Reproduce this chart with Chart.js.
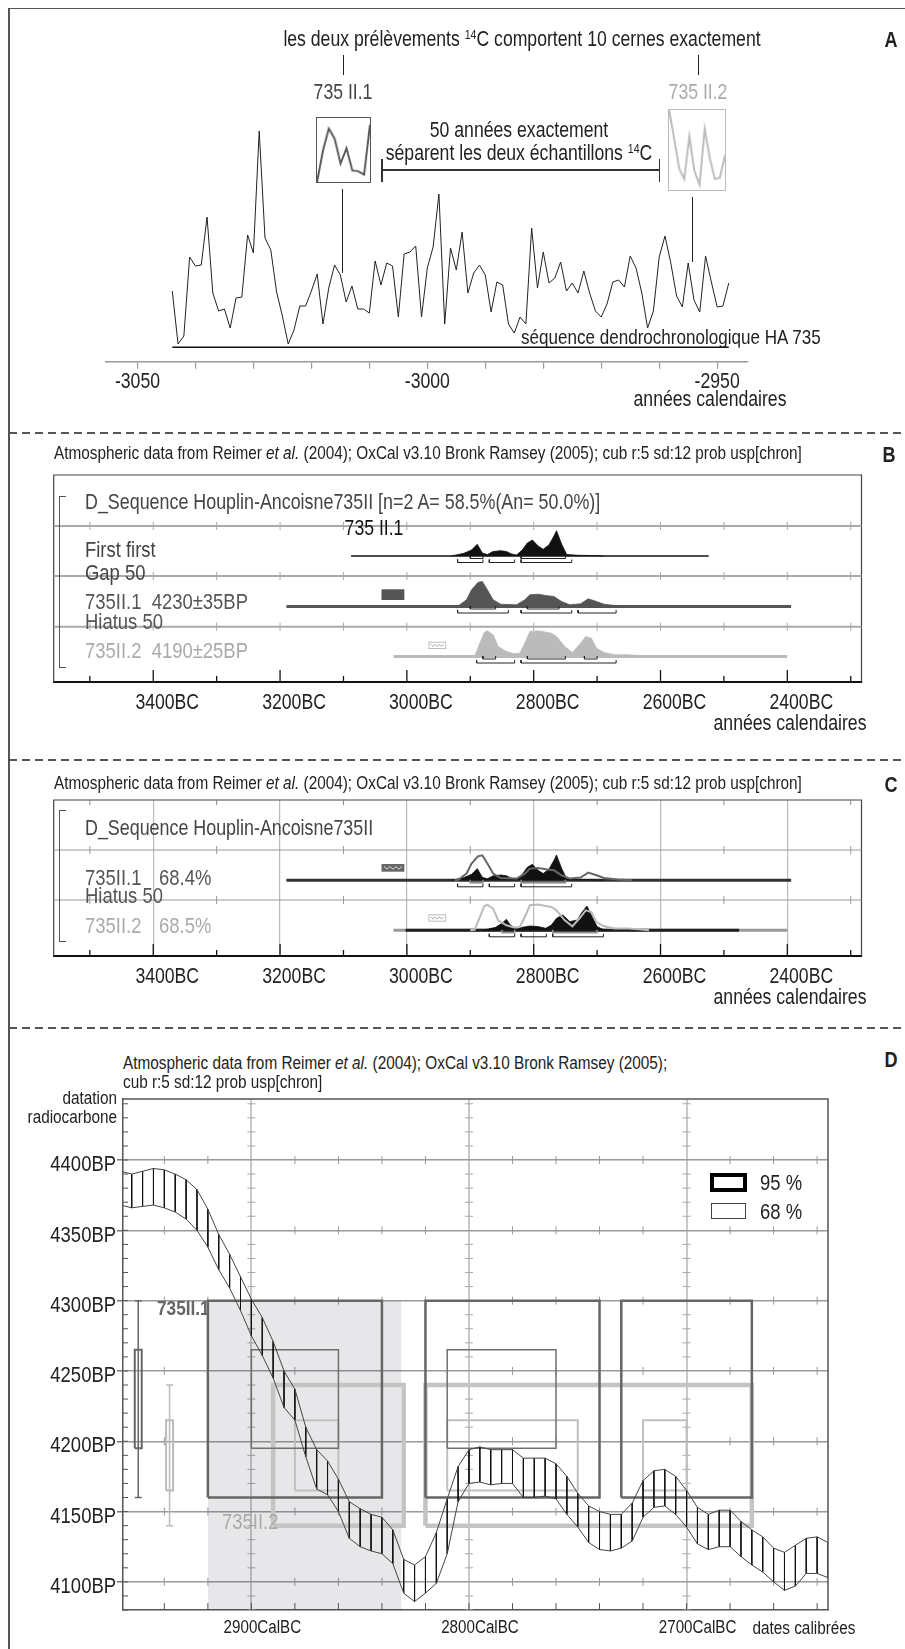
<!DOCTYPE html>
<html>
<head>
<meta charset="utf-8">
<script src="https://cdn.jsdelivr.net/npm/chart.js@4.4.1/dist/chart.umd.min.js"></script>
<style>
html, body { margin: 0; padding: 0; background: #fff; }
body { position: relative; width: 905px; height: 1649px; overflow: hidden;
  font-family: 'Liberation Sans', Arial, sans-serif; color: #222; }
.t { position: absolute; white-space: nowrap; line-height: 1; }
.c { transform: translate(-50%, -50%) scaleX(0.82); transform-origin: 50% 50%; }
.l { transform: translateY(-50%) scaleX(0.82); transform-origin: 0 50%; }
.r { transform: translate(-100%, -50%) scaleX(0.82); transform-origin: 100% 50%; }
.ln { position: absolute; background: #222; }
.dash { position: absolute; left: 9px; right: 0; height: 1.5px;
  background: repeating-linear-gradient(90deg, #555 0 8px, transparent 8px 13px); }
.brk { position: absolute; width: 6px; border: 1px solid #555; border-right: none; }
canvas { position: absolute; }
sup { font-size: 0.6em; vertical-align: 0.6em; line-height: 0; }
.big { font-size: 21.5px; }
.row { font-size: 22.5px; }
.tit { font-size: 18.7px; }
.lab { font-weight: bold; font-size: 22px; }
</style>
</head>
<body>

<!-- cadre et séparateurs -->
<div class="ln" style="left:8px;top:7.5px;width:1.5px;height:1642px;background:#555"></div>
<div class="ln" style="left:8px;top:7.5px;width:897px;height:1.5px;background:#555"></div>
<div class="dash" style="top:432px"></div>
<div class="dash" style="top:759px"></div>
<div class="dash" style="top:1027px"></div>

<!-- A -->
<canvas id="cA" width="905" height="430" style="left:0;top:0"></canvas>
<div class="t c big" style="left:522px;top:40px">les deux prélèvements <sup>14</sup>C comportent 10 cernes exactement</div>
<div class="t c lab" style="left:891px;top:40px">A</div>
<div class="ln" style="left:342.7px;top:55px;width:1px;height:20px"></div>
<div class="ln" style="left:697.7px;top:55px;width:1px;height:20px"></div>
<div class="t c big" style="left:343px;top:93px;color:#444">735 II.1</div>
<div class="t c big" style="left:698px;top:93px;color:#aaa">735 II.2</div>
<canvas id="cS1" width="55" height="66" style="left:315.7px;top:116.7px;border:1.5px solid #555"></canvas>
<canvas id="cS2" width="58" height="82" style="left:667.7px;top:109.3px;border:1.5px solid #bbb"></canvas>
<div class="t c big" style="left:519px;top:131px">50 années exactement</div>
<div class="t c big" style="left:519px;top:154px">séparent les deux échantillons <sup>14</sup>C</div>
<div class="ln" style="left:382px;top:169.4px;width:278px;height:1.3px;background:#333"></div>
<div class="ln" style="left:381.4px;top:159px;width:1.3px;height:23px;background:#333"></div>
<div class="ln" style="left:659px;top:159px;width:1.3px;height:23px;background:#333"></div>
<div class="ln" style="left:341.7px;top:189px;width:1px;height:84px"></div>
<div class="ln" style="left:692px;top:197px;width:1px;height:65px"></div>
<div class="t l" style="left:521px;top:337px;font-size:20.8px">séquence dendrochronologique HA 735</div>
<div class="t c big" style="left:710px;top:400px">années calendaires</div>

<!-- B -->
<canvas id="cB" width="905" height="290" style="left:0;top:460px"></canvas>
<div class="t l tit" style="left:54px;top:453px">Atmospheric data from Reimer <i>et al.</i> (2004); OxCal v3.10 Bronk Ramsey (2005); cub r:5 sd:12 prob usp[chron]</div>
<div class="t c lab" style="left:889px;top:455px">B</div>
<div class="brk" style="left:59px;top:496px;height:170px"></div>
<div class="t l row" style="left:85.4px;top:502px;color:#444;font-size:21.8px">D_Sequence Houplin-Ancoisne735II [n=2 A= 58.5%(An= 50.0%)]</div>
<div class="t c big" style="left:374px;top:529px;color:#111">735 II.1</div>
<div class="t l row" style="left:85.4px;top:550px;color:#444">First first</div>
<div class="t l row" style="left:85.4px;top:573px;color:#444">Gap 50</div>
<div class="t l row" style="left:85.4px;top:602px;color:#555">735II.1&nbsp;&nbsp;4230±35BP</div>
<div class="t l row" style="left:85.4px;top:622px;color:#555">Hiatus 50</div>
<div class="t l row" style="left:85.4px;top:651px;color:#aaa">735II.2&nbsp;&nbsp;4190±25BP</div>
<div class="t c big" style="left:790px;top:724px">années calendaires</div>

<!-- C -->
<canvas id="cC" width="905" height="236" style="left:0;top:790px"></canvas>
<div class="t l tit" style="left:54px;top:783px">Atmospheric data from Reimer <i>et al.</i> (2004); OxCal v3.10 Bronk Ramsey (2005); cub r:5 sd:12 prob usp[chron]</div>
<div class="t c lab" style="left:891px;top:785px">C</div>
<div class="brk" style="left:59px;top:810px;height:130px"></div>
<div class="t l row" style="left:85.4px;top:828px;color:#444;font-size:21.8px">D_Sequence Houplin-Ancoisne735II</div>
<div class="t l row" style="left:85.4px;top:878px;color:#555">735II.1</div>
<div class="t l row" style="left:158.7px;top:878px;color:#555">68.4%</div>
<div class="t l row" style="left:85.4px;top:896px;color:#555">Hiatus 50</div>
<div class="t l row" style="left:85.4px;top:926px;color:#aaa">735II.2</div>
<div class="t l row" style="left:158.7px;top:926px;color:#aaa">68.5%</div>
<div class="t c big" style="left:790px;top:998px">années calendaires</div>

<!-- D -->
<canvas id="cD" width="905" height="559" style="left:0;top:1090px"></canvas>
<div class="t l tit" style="left:123px;top:1063px">Atmospheric data from Reimer <i>et al.</i> (2004); OxCal v3.10 Bronk Ramsey (2005);</div>
<div class="t l tit" style="left:123px;top:1082px">cub r:5 sd:12 prob usp[chron]</div>
<div class="t c lab" style="left:891px;top:1060px">D</div>
<div class="t r tit" style="left:117px;top:1098px">datation</div>
<div class="t r tit" style="left:117px;top:1117px">radiocarbone</div>
<div class="t l" style="left:157px;top:1307px;font-size:21px;font-weight:bold;color:#666">735II.1</div>
<div class="t l row" style="left:222px;top:1522px;color:#aaa">735II.2</div>
<div style="position:absolute;left:709.8px;top:1173.3px;width:37.5px;height:19px;border:4px solid #000;box-sizing:border-box"></div>
<div style="position:absolute;left:711px;top:1202.7px;width:35px;height:16.6px;border:1px solid #444;box-sizing:border-box"></div>
<div class="t l row" style="left:760px;top:1183px">95 %</div>
<div class="t l row" style="left:760px;top:1212px">68 %</div>
<div class="t c tit" style="left:804px;top:1628px">dates calibrées</div>

<script>
const FONT = "'Liberation Sans', Arial, sans-serif";
const NARROW = 0.82;
Chart.defaults.font.family = FONT;

// ---------- A : séquence dendrochronologique HA 735 (largeurs de cernes)
const firstRingYear = -3044;
const ringWidths = [
  69, 16, 24, 103, 94, 95, 143, 67, 49, 51,
  32, 62, 63, 125, 107, 229, 122, 110, 68, 44,
  16, 30, 54, 54, 69, 86, 36, 72, 95, 85,
  58, 74, 51, 51, 47, 99, 75, 97, 94, 43,
  106, 108, 114, 43, 92, 113, 166, 36, 112, 90,
  128, 67, 87, 95, 85, 48, 78, 75, 36, 27,
  43, 36, 132, 72, 108, 77, 82, 98, 69, 77,
  67, 89, 67, 49, 43, 56, 78, 80, 73, 104,
  92, 67, 32, 49, 103, 124, 97, 64, 53, 97,
  60, 48, 104, 78, 53, 54, 77
];
const sample1Rings = [0, 32.7, 56, 45.3, 19.3, 35.3, 12, 11.3, 7.7, 60];
const sample2Rings = [84.3, 54.3, 23.3, 12.7, 56.7, 21, 7, 64.3, 34.3, 12.7, 14.3, 37];
const yearLabelsA = [-3050, -3000, -2950];

// ---------- B / C : distributions OxCal (années BC, probabilité relative)
const firstYears = [2930, 2910, 2898, 2889, 2881, 2873, 2864, 2852, 2843, 2835, 2827, 2818, 2810, 2802, 2793, 2785, 2776, 2768, 2764, 2756, 2748, 2730, 2709, 2690];
const firstProb  = [0, 2.7, 6, 11.7, 3, 1.5, 4.5, 5.3, 4.5, 2, 1, 6, 13, 16, 10, 6.7, 11, 20, 25.3, 12, 1.5, 0.7, 0.5, 0];
const ii1Years = [2925, 2919, 2906, 2898, 2888, 2881, 2873, 2864, 2852, 2827, 2814, 2806, 2793, 2781, 2768, 2756, 2743, 2726, 2714, 2701, 2689, 2668, 2645];
const ii1Prob  = [0, 0.5, 6.7, 16.7, 24, 25, 16.7, 6.7, 2.3, 1.7, 6.7, 11.7, 12.3, 11, 10, 5, 1.7, 2.7, 7.7, 5, 2.3, 0.7, 0];
const ii2Years = [2900, 2893, 2887, 2878, 2873, 2864, 2856, 2843, 2831, 2822, 2814, 2806, 2793, 2781, 2772, 2764, 2751, 2739, 2726, 2718, 2709, 2701, 2689, 2672, 2651, 2634, 2618];
const ii2Prob  = [0, 0.5, 10, 24, 25.7, 21.7, 10, 5, 2.7, 3.3, 13.3, 25, 25.7, 24.3, 23.3, 20, 10, 4, 13.3, 20, 18.3, 8.3, 4, 1.7, 1.7, 1, 0];
const hiatusYears = [2880, 2860, 2850, 2843, 2837, 2827, 2818, 2806, 2793, 2781, 2772, 2764, 2754, 2743, 2731, 2725, 2716, 2708, 2700, 2691, 2680];
const hiatusProb  = [0, 3, 7, 11, 5.3, 1.3, 3, 4.3, 3.7, 2, 5.3, 12, 15.3, 8.7, 10.3, 17, 24.3, 13.7, 3.7, 1, 0];

// intervalles calibrés (BC)
const first68 = [[2900, 2880], [2820, 2750]];
const first95 = [[2920, 2880], [2870, 2830], [2820, 2740]];
const ii1_68 = [[2900, 2860], [2810, 2760]];
const ii1_95 = [[2920, 2840], [2820, 2740], [2730, 2670]];
const ii2_68 = [[2880, 2860], [2810, 2750], [2720, 2700]];
const ii2_95 = [[2890, 2830], [2820, 2670]];
const hiatus68 = [[2850, 2830], [2770, 2700]];
const hiatus95 = [[2870, 2830], [2820, 2780], [2770, 2690]];

// étendue des courbes tracées (BC)
const firstSpan = [3088, 2524];
const ii1Span = [3190, 2394];
const ii2Span = [3021, 2400];
const hiatusSpan = [3002, 2476];
const ii1Icon = [3040, 3004];
const ii2Icon = [2966, 2938];

// ---------- D : courbe de calibration (CalBC, BP)
const dates14C = { ii1: [4230, 35], ii2: [4190, 25] };
const calYears = [2960, 2955, 2950, 2945, 2940, 2935, 2930, 2925, 2920, 2915, 2910, 2905, 2900, 2895, 2890, 2885, 2880,
  2875, 2870, 2865, 2860, 2855, 2850, 2845, 2840, 2835, 2830, 2825, 2820, 2815, 2810, 2805, 2800, 2795, 2790, 2785,
  2780, 2775, 2770, 2765, 2760, 2755, 2750, 2745, 2740, 2735, 2730, 2725, 2720, 2715, 2710, 2705, 2700, 2695, 2690,
  2685, 2680, 2675, 2670, 2665, 2660, 2655, 2650, 2645, 2640, 2635];
const calUpper = [4392, 4390, 4392, 4394, 4393, 4390, 4386, 4379, 4365, 4347, 4333, 4317, 4301, 4288, 4271, 4250, 4237,
  4210, 4194, 4186, 4173, 4157, 4152, 4148, 4146, 4137, 4116, 4112, 4118, 4135, 4159, 4182, 4194, 4196, 4194, 4194,
  4194, 4188, 4188, 4188, 4184, 4175, 4163, 4154, 4150, 4148, 4148, 4156, 4172, 4179, 4180, 4175, 4165, 4153, 4148,
  4151, 4151, 4143, 4137, 4132, 4124, 4121, 4126, 4131, 4132, 4128];
const calLower = [4368, 4366, 4367, 4368, 4366, 4363, 4358, 4350, 4338, 4322, 4309, 4293, 4275, 4261, 4245, 4224, 4215,
  4189, 4166, 4162, 4150, 4131, 4125, 4122, 4120, 4113, 4092, 4086, 4092, 4099, 4120, 4157, 4170, 4171, 4169, 4170,
  4170, 4160, 4160, 4161, 4159, 4148, 4139, 4128, 4123, 4122, 4124, 4129, 4146, 4153, 4154, 4148, 4139, 4127, 4123,
  4125, 4125, 4118, 4112, 4107, 4100, 4094, 4097, 4106, 4106, 4103];
const shadeSpan = [2920, 2831];

// ---------- helpers
const common = { responsive: false, animation: false, events: [],
  plugins: { legend: { display: false }, tooltip: { enabled: false } } };

function ds(data, color, width, extra) {
  return Object.assign({ data, borderColor: color, borderWidth: width, pointRadius: 0, fill: false,
    tension: 0, borderJoinStyle: 'miter', spanGaps: false }, extra || {});
}
function stack(list) { return list.map((d, i) => Object.assign(d, { order: list.length - i })); }
function dist(xs, ps, base) { return xs.map((x, i) => ({ x, y: base + ps[i] })); }
function span(s, base) { return [{ x: s[0], y: base }, { x: s[1], y: base }]; }
function brackets(ranges, level) {
  const out = [];
  ranges.forEach(([a, b]) => out.push({ x: a, y: level + 3 }, { x: a, y: level }, { x: b, y: level }, { x: b, y: level + 3 }, { x: b, y: null }));
  return out;
}
function rects(ranges, lo, hi) {
  const out = [];
  ranges.forEach(([a, b]) => out.push({ x: a, y: lo }, { x: a, y: hi }, { x: b, y: hi }, { x: b, y: lo }, { x: a, y: lo }, { x: a, y: null }));
  return out;
}
function strokeLine(ctx, x1, y1, x2, y2) { ctx.beginPath(); ctx.moveTo(x1, y1); ctx.lineTo(x2, y2); ctx.stroke(); }

// tick labels of the chart's own scales, drawn in a narrowed face (the figure uses a condensed font)
function narrowTicks(specs) {
  return {
    id: 'narrowTicks',
    afterDraw(chart) {
      const { ctx, chartArea: a } = chart;
      specs.forEach(sp => {
        const sc = chart.scales[sp.axis];
        ctx.save();
        ctx.fillStyle = '#222';
        ctx.font = sp.size + 'px ' + FONT;
        ctx.textBaseline = 'middle';
        ctx.textAlign = sp.align || 'center';
        sc.ticks.forEach(t => {
          if (!t.label) return;
          const p = sc.getPixelForValue(t.value);
          const px = sp.axis === 'x' ? p + sp.dx : a.left + sp.dx;
          const py = sp.axis === 'x' ? a.bottom + sp.dy : p + sp.dy;
          ctx.save(); ctx.translate(px, py); ctx.scale(NARROW, 1); ctx.fillText(t.label, 0, 0); ctx.restore();
        });
        ctx.restore();
      });
    }
  };
}

// ---------- A
new Chart(document.getElementById('cA'), {
  type: 'line',
  data: { datasets: [
    ds(ringWidths.map((w, i) => ({ x: firstRingYear + i, y: w })), '#222', 1),
    ds(span([firstRingYear, firstRingYear + ringWidths.length - 1], 12.7), '#111', 1.5)
  ] },
  options: Object.assign({}, common, {
    layout: { padding: { left: 105.6, right: 157.7, top: 40, bottom: 0 } },
    scales: {
      x: { type: 'linear', min: -3055.5, max: -2944.8,
        border: { color: '#999', width: 1.5 },
        grid: { drawOnChartArea: false, tickLength: 7, color: '#999', lineWidth: 1.2 },
        ticks: { display: false, stepSize: 10, includeBounds: false, autoSkip: false,
          callback: v => yearLabelsA.includes(v) ? String(v) : '' },
        afterFit(s) { s.height = 68.3; } },
      y: { display: false, min: -1.7, max: 320 }
    }
  }),
  plugins: [narrowTicks([{ axis: 'x', size: 21.5, dx: 0, dy: 20 }])]
});

function inset(id, values, color, lo, hi) {
  new Chart(document.getElementById(id), {
    type: 'line',
    data: { labels: values.map((_, i) => i + 1), datasets: [ds(values, color, 2)] },
    options: Object.assign({}, common, { layout: { padding: 0 },
      scales: { x: { display: false, offset: false }, y: { display: false, min: lo, max: hi } } })
  });
}
inset('cS1', sample1Rings, '#555', 0, 67);
inset('cS2', sample2Rings, '#bbb', 1.5, 83.5);

// ---------- B & C
function oxcalDeco(cfg) {
  return {
    id: 'oxcalDeco',
    beforeDatasetsDraw(chart) {
      const { ctx, chartArea: a, scales: { x, y } } = chart;
      ctx.save();
      ctx.strokeStyle = '#444'; ctx.lineWidth = 1.2;
      ctx.beginPath(); ctx.moveTo(a.left, a.bottom); ctx.lineTo(a.left, a.top);
      ctx.lineTo(a.right, a.top); ctx.lineTo(a.right, a.bottom); ctx.stroke();
      cfg.rows.forEach(v => {
        const py = y.getPixelForValue(v);
        ctx.strokeStyle = cfg.rowColor; ctx.lineWidth = cfg.rowWidth;
        strokeLine(ctx, a.left, py, a.right, py);
        ctx.lineWidth = 1;
        x.ticks.forEach(t => {
          if (cfg.oddOnly && t.value % 200 === 0) return;
          const px = x.getPixelForValue(t.value);
          strokeLine(ctx, px, py - 4, px, py + 4);
        });
      });
      if (cfg.topTicks) {
        ctx.strokeStyle = '#888'; ctx.lineWidth = 1;
        x.ticks.forEach(t => { if (t.value % 200 !== 0) { const px = x.getPixelForValue(t.value); strokeLine(ctx, px, a.top, px, a.top + 5); } });
      }
      ctx.strokeStyle = '#111'; ctx.lineWidth = 1.3;
      x.ticks.forEach(t => {
        const px = x.getPixelForValue(t.value);
        strokeLine(ctx, px, a.bottom, px, a.bottom - (t.value % 200 === 0 ? 12 : 6));
      });
      ctx.restore();
    },
    afterDatasetsDraw(chart) {
      const { ctx, scales: { x, y } } = chart;
      ctx.save();
      cfg.icons.forEach(ic => {
        const x1 = x.getPixelForValue(ic.span[0]), x2 = x.getPixelForValue(ic.span[1]);
        const y1 = y.getPixelForValue(ic.base + ic.hi), y2 = y.getPixelForValue(ic.base + ic.lo);
        if (ic.fill) { ctx.fillStyle = ic.fill; ctx.fillRect(x1, y1, x2 - x1, y2 - y1); }
        if (ic.stroke) { ctx.strokeStyle = ic.stroke; ctx.lineWidth = 1; ctx.strokeRect(x1 + 0.5, y1 + 0.5, x2 - x1 - 1, y2 - y1 - 1); }
        if (ic.zig) {
          ctx.strokeStyle = ic.zig; ctx.lineWidth = 1; ctx.beginPath();
          for (let k = 0; k <= 6; k++) {
            const px = x1 + 2.5 + (x2 - x1 - 5) * k / 6, py = k % 2 ? y2 - 2.5 : y1 + 2.5;
            if (k) ctx.lineTo(px, py); else ctx.moveTo(px, py);
          }
          ctx.stroke();
        }
      });
      ctx.restore();
    }
  };
}

function bcScales(maxY, axisH, gridColor) {
  return {
    x: { type: 'linear', reverse: true, min: 2283, max: 3557,
      border: { display: true, color: '#111', width: 2 },
      grid: { drawOnChartArea: !!gridColor, drawTicks: false, lineWidth: 1.2,
        color: c => (gridColor && c.tick && c.tick.value % 200 === 0) ? gridColor : 'rgba(0,0,0,0)' },
      ticks: { display: false, stepSize: 100, includeBounds: false, autoSkip: false,
        callback: v => v % 200 === 0 ? v + 'BC' : '' },
      afterFit(s) { s.height = axisH; } },
    y: { display: false, min: 0, max: maxY }
  };
}

// B
const rowB = [126, 75.5, 25.5];
new Chart(document.getElementById('cB'), {
  type: 'line',
  data: { datasets: stack([
    ds(span(firstSpan, rowB[0]), '#111', 1.5),
    ds(dist(firstYears, firstProb, rowB[0]), '#111', 0.8, { fill: { value: rowB[0] }, backgroundColor: '#111' }),
    ds(brackets(first68, rowB[0] - 2.5), '#222', 1),
    ds(brackets(first95, rowB[0] - 6.5), '#222', 1),
    ds(span(ii1Span, rowB[1]), '#555', 3),
    ds(dist(ii1Years, ii1Prob, rowB[1]), '#555', 0.8, { fill: { value: rowB[1] }, backgroundColor: '#555' }),
    ds(brackets(ii1_68, rowB[1] - 2.5), '#222', 1),
    ds(brackets(ii1_95, rowB[1] - 6.5), '#222', 1),
    ds(span(ii2Span, rowB[2]), '#bbb', 3),
    ds(dist(ii2Years, ii2Prob, rowB[2]), '#bbb', 0.8, { fill: { value: rowB[2] }, backgroundColor: '#bbb' }),
    ds(brackets(ii2_68, rowB[2] - 2.5), '#222', 1),
    ds(brackets(ii2_95, rowB[2] - 6.5), '#222', 1)
  ]) },
  options: Object.assign({}, common, {
    layout: { padding: { left: 53.7, right: 43.5, top: 15, bottom: 0 } },
    scales: bcScales(207, 68, null)
  }),
  plugins: [oxcalDeco({ rows: [156, 106, 55.3], rowColor: '#aaa', rowWidth: 2, oddOnly: false, topTicks: false,
    icons: [
      { span: ii1Icon, base: rowB[1], lo: 6.5, hi: 17.2, fill: '#555' },
      { span: ii2Icon, base: rowB[2], lo: 7.5, hi: 14.8, stroke: '#bbb', zig: '#aaa' }
    ] }), narrowTicks([{ axis: 'x', size: 21.5, dx: 14, dy: 21 }])]
});

// C
const rowC = [75.7, 25.7];
new Chart(document.getElementById('cC'), {
  type: 'line',
  data: { datasets: stack([
    ds(span(ii1Span, rowC[0]), '#333', 3),
    ds(dist(firstYears, firstProb, rowC[0]), '#111', 0.8, { fill: { value: rowC[0] }, backgroundColor: '#111' }),
    ds(dist(ii1Years, ii1Prob, rowC[0]), '#666', 2),
    ds(brackets(first68, rowC[0] - 2.5), '#888', 1.5),
    ds(brackets(first95, rowC[0] - 6.5), '#222', 1),
    ds(span(ii2Span, rowC[1]), '#999', 3),
    ds(span(hiatusSpan, rowC[1]), '#222', 3),
    ds(dist(hiatusYears, hiatusProb, rowC[1]), '#111', 0.8, { fill: { value: rowC[1] }, backgroundColor: '#111' }),
    ds(dist(ii2Years, ii2Prob, rowC[1]), '#bbb', 2),
    ds(brackets(hiatus68, rowC[1] - 2.5), '#999', 1.5),
    ds(brackets(hiatus95, rowC[1] - 6.5), '#222', 1)
  ]) },
  options: Object.assign({}, common, {
    layout: { padding: { left: 53.7, right: 43.5, top: 10, bottom: 0 } },
    scales: bcScales(156, 70, '#bbb')
  }),
  plugins: [oxcalDeco({ rows: [106, 56], rowColor: '#999', rowWidth: 1.2, oddOnly: true, topTicks: true,
    icons: [
      { span: ii1Icon, base: rowC[0], lo: 8.6, hi: 16.3, fill: '#666', zig: '#ddd' },
      { span: ii2Icon, base: rowC[1], lo: 8.6, hi: 16, stroke: '#bbb', zig: '#aaa' }
    ] }), narrowTicks([{ axis: 'x', size: 21.5, dx: 14, dy: 20.7 }])]
});

// ---------- D
const dDeco = {
  id: 'dDeco',
  beforeDatasetsDraw(chart) {
    const { ctx, chartArea: a, scales: { x, y } } = chart;
    ctx.save(); ctx.lineWidth = 1;
    y.ticks.forEach(ty => {
      if (ty.value % 50 !== 0) return;
      const py = y.getPixelForValue(ty.value);
      ctx.strokeStyle = '#999';
      x.ticks.forEach(tx => { if (tx.value % 100 !== 0) { const px = x.getPixelForValue(tx.value); strokeLine(ctx, px, py - 4, px, py + 4); } });
    });
    x.ticks.forEach(tx => {
      if (tx.value % 100 !== 0) return;
      const px = x.getPixelForValue(tx.value);
      ctx.strokeStyle = '#aaa';
      y.ticks.forEach(ty => { if (ty.value % 50 !== 0) { const py = y.getPixelForValue(ty.value); strokeLine(ctx, px - 4, py, px + 4, py); } });
    });
    ctx.strokeStyle = '#555';
    y.ticks.forEach(ty => { const py = y.getPixelForValue(ty.value); strokeLine(ctx, a.left, py, a.left + 5, py); });
    x.ticks.forEach(tx => { const px = x.getPixelForValue(tx.value); strokeLine(ctx, px, a.bottom, px, a.bottom - 7); });
    ctx.restore();
  },
  afterDatasetsDraw(chart) {
    const { ctx, chartArea: a } = chart;
    ctx.save(); ctx.strokeStyle = '#555'; ctx.lineWidth = 1.5;
    ctx.beginPath(); ctx.moveTo(a.left, a.top); ctx.lineTo(a.right, a.top); ctx.lineTo(a.right, a.bottom); ctx.stroke();
    ctx.restore();
  }
};

function errBar(xc, date, color) {
  const [m, s] = date, hw = 1.6;
  return [
    ds([{ x: xc, y: m - 2 * s }, { x: xc, y: m + 2 * s }, { x: xc, y: null },
        { x: xc + hw, y: m + 2 * s }, { x: xc - hw, y: m + 2 * s }, { x: xc, y: null },
        { x: xc + hw, y: m - 2 * s }, { x: xc - hw, y: m - 2 * s }], color, 1.5),
    ds(rects([[xc + hw, xc - hw]], m - s, m + s), color, 2)
  ];
}
const d1 = dates14C.ii1, d2 = dates14C.ii2;
const hatch = [];
calYears.forEach((yr, i) => hatch.push({ x: yr, y: calUpper[i] }, { x: yr, y: calLower[i] }, { x: yr, y: null }));

new Chart(document.getElementById('cD'), {
  type: 'line',
  data: { datasets: stack([
    ds([{ x: shadeSpan[0], y: d1[0] + 2 * d1[1] }, { x: shadeSpan[1], y: d1[0] + 2 * d1[1] }], 'rgba(0,0,0,0)', 0,
      { fill: 'start', backgroundColor: 'rgba(40,40,60,0.11)' }),
    ds(rects(ii2_95, d2[0] - 2 * d2[1], d2[0] + 2 * d2[1]), '#c4c4c4', 4.5),
    ds(rects(ii2_68, d2[0] - d2[1], d2[0] + d2[1]), '#c0c0c0', 2),
    ds(rects(ii1_95, d1[0] - 2 * d1[1], d1[0] + 2 * d1[1]), '#666', 2.5),
    ds(rects(ii1_68, d1[0] - d1[1], d1[0] + d1[1]), '#707070', 1.5),
    ds(hatch, '#111', 1),
    ds(calYears.map((yr, i) => ({ x: yr, y: calUpper[i] })), '#444', 1),
    ds(calYears.map((yr, i) => ({ x: yr, y: calLower[i] })), '#444', 1),
    ...errBar(2952, d1, '#666'),
    ...errBar(2937.6, d2, '#bbb')
  ]) },
  options: Object.assign({}, common, {
    layout: { padding: { left: 0, right: 77, top: 9, bottom: 0 } },
    scales: {
      x: { type: 'linear', reverse: true, min: 2635, max: 2959,
        border: { color: '#555', width: 1.5 },
        grid: { drawTicks: false, lineWidth: 2, color: c => (c.tick && c.tick.value % 100 === 0) ? '#c8c8c8' : 'rgba(0,0,0,0)' },
        ticks: { display: false, stepSize: 20, includeBounds: false, autoSkip: false,
          callback: v => v % 100 === 0 ? v + 'CalBC' : '' },
        afterFit(s) { s.height = 39; } },
      y: { type: 'linear', min: 4080, max: 4443.4,
        border: { color: '#555', width: 1.5 },
        grid: { lineWidth: 1.5, tickLength: 6,
          color: c => (c.tick && c.tick.value % 50 === 0) ? '#9a9a9a' : 'rgba(0,0,0,0)',
          tickColor: c => (c.tick && c.tick.value % 50 === 0) ? '#777' : 'rgba(0,0,0,0)' },
        ticks: { display: false, stepSize: 10, includeBounds: false, autoSkip: false,
          callback: v => v % 50 === 0 ? v + 'BP' : '' },
        afterFit(s) { s.width = 123; } }
    }
  }),
  plugins: [dDeco, narrowTicks([
    { axis: 'x', size: 18.5, dx: 11, dy: 18 },
    { axis: 'y', size: 22.5, dx: -7, dy: 5, align: 'right' }
  ])]
});
</script>
</body>
</html>
